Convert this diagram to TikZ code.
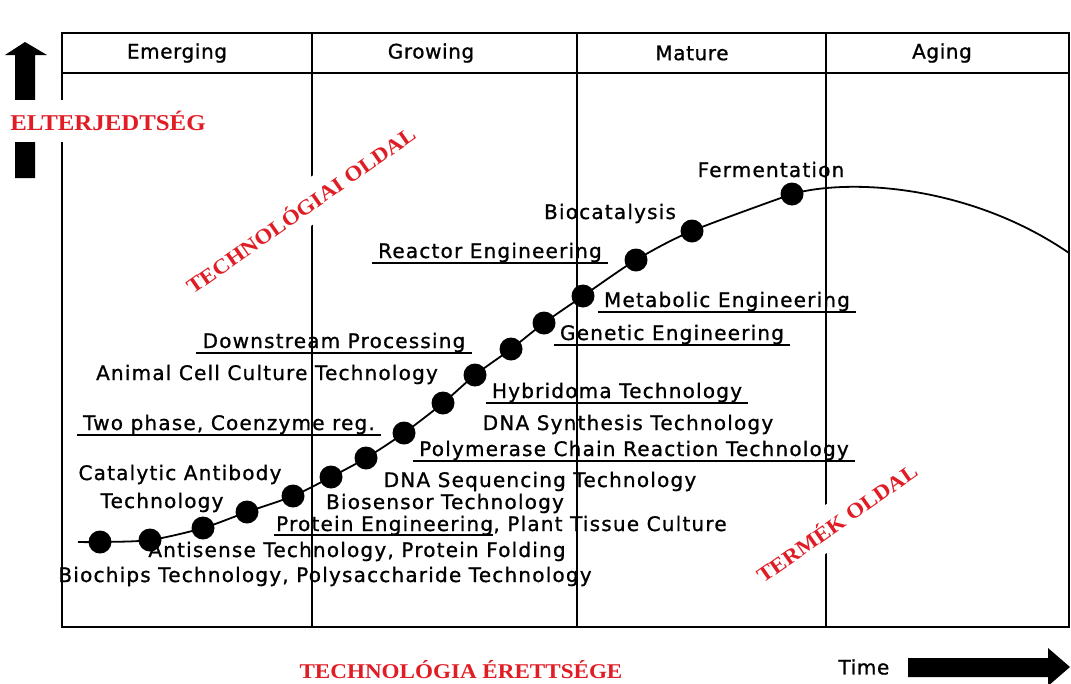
\documentclass[tikz,border=0pt]{standalone}
\usepackage{fontspec}
\setmainfont{DejaVu Sans}
\newfontfamily\lblfont[LetterSpace=6,FakeBold=1]{DejaVu Sans}
\newfontfamily\hdfont[LetterSpace=3,FakeBold=1]{DejaVu Sans}
\newfontfamily\redfont[FakeStretch=1.1]{Liberation Serif}
\definecolor{hunred}{RGB}{224,28,36}
\usetikzlibrary{calc}

\begin{document}
\begin{tikzpicture}[x=1pt,y=-1pt,
  lbl/.style={anchor=base,inner sep=0pt,font=\lblfont\fontsize{20}{22}\selectfont},
  phase/.style={font=\hdfont\fontsize{20}{22}\selectfont},
  hun/.style={text=hunred,fill=white,inner xsep=3pt,inner ysep=11pt,font=\redfont\bfseries\fontsize{21}{23}\selectfont},
  dot/.style={circle,fill=black,inner sep=0pt,minimum size=23pt},
  ul/.style={line width=1.4pt},
  border/.style={line width=2.5pt},
  divider/.style={line width=1.9pt}]

  \useasboundingbox (0,0) rectangle (1071,683);

  % frame and phases
  \draw[border] (62,33) rectangle (1069,627);
  \draw[border] (62,73) -- (1069,73);
  \foreach \x in {312,577,826}
    \draw[divider] (\x,33) -- (\x,627);

  \node[phase] (emerging) at (177,53)  {Emerging};
  \node[phase] (growing)  at (431,53)  {Growing};
  \node[phase] (mature)   at (692,53)  {Mature};
  \node[phase] (aging)    at (942,53)  {Aging};

  % axes
  \fill (15,178) -- (15,55) -- (5,55) -- (25,42) -- (47,55) -- (35,55) -- (35,178) -- cycle;
  \fill (908,658) -- (1048,658) -- (1048,648) -- (1070,667) -- (1048,686) -- (1048,677) -- (908,677) -- cycle;
  \node[phase,anchor=west] (time) at (835,667) {Time};

  \node[hun,font=\redfont\bfseries\fontsize{22.6}{24}\selectfont] (spread) at (108,121) {ELTERJEDTSÉG};
  \node[hun,rotate=35] (techside) at (300,209) {TECHNOLÓGIAI OLDAL};
  \node[hun,rotate=35] (prodside) at (836,522) {TERMÉK OLDAL};
  \node[hun]           (maturity) at (461,670) {TECHNOLÓGIA ÉRETTSÉGE};

  % the curve
  \foreach \x/\y [count=\i] in {100/542,150/540,203/528,247/512,293/496,331/477,
      366/458,404/433,443/403,475/375,511/349,544/323,583/296,636/260,692/231,792/194}
    \node[dot] (d\i) at (\x,\y) {};
  \coordinate (c0)   at (78,542);
  \coordinate (cend) at (1069,253);
  \draw[line width=1.8pt] plot[smooth] coordinates {(c0) (d1) (d2) (d3) (d4) (d5) (d6) (d7) (d8)
      (d9) (d10) (d11) (d12) (d13) (d14) (d15) (d16)}
      .. controls (850,178) and (970,185) .. (cend);

  % technologies
  \node[lbl] (ferm)  at (771,177)   {Fermentation};
  \node[lbl] (bioc)  at (610,219)   {Biocatalysis};
  \node[lbl] (reac)  at (490,258)   {Reactor Engineering};
  \node[lbl] (meta)  at (727,307)   {Metabolic Engineering};
  \node[lbl] (gene)  at (672,340)   {Genetic Engineering};
  \node[lbl] (down)  at (334,348)   {Downstream Processing};
  \node[lbl] (anim)  at (267,380)   {Animal Cell Culture Technology};
  \node[lbl] (hybr)  at (617,398)   {Hybridoma Technology};
  \node[lbl] (twoph) at (229,430)   {Two phase, Coenzyme reg.};
  \node[lbl] (synth) at (628,430)   {DNA Synthesis Technology};
  \node[lbl] (pcr)   at (634,456)   {Polymerase Chain Reaction Technology};
  \node[lbl] (cata)  at (180,480)   {Catalytic Antibody};
  \node[lbl] (catb)  at (162,508)   {Technology};
  \node[lbl] (seq)   at (540,487)   {DNA Sequencing Technology};
  \node[lbl] (bios)  at (445,509)   {Biosensor Technology};
  \node[lbl,anchor=base west] (prot)  at (276,531) {Protein Engineering};
  \node[lbl,anchor=base west] (plant) at (prot.base east) {, Plant Tissue Culture};
  \node[lbl] (anti)  at (357,557)   {Antisense Technology, Protein Folding};
  \node[lbl] (chips) at (325,582)   {Biochips Technology, Polysaccharide Technology};

  \foreach \n in {reac,meta,gene,down,hybr,twoph,pcr}
    \draw[ul] ([xshift=-6pt,yshift=-5pt]\n.base west) -- ([xshift=6pt,yshift=-5pt]\n.base east);
  \draw[ul] ([xshift=-2pt,yshift=-4pt]prot.base west) -- ([yshift=-4pt]prot.base east);
\end{tikzpicture}
\end{document}
